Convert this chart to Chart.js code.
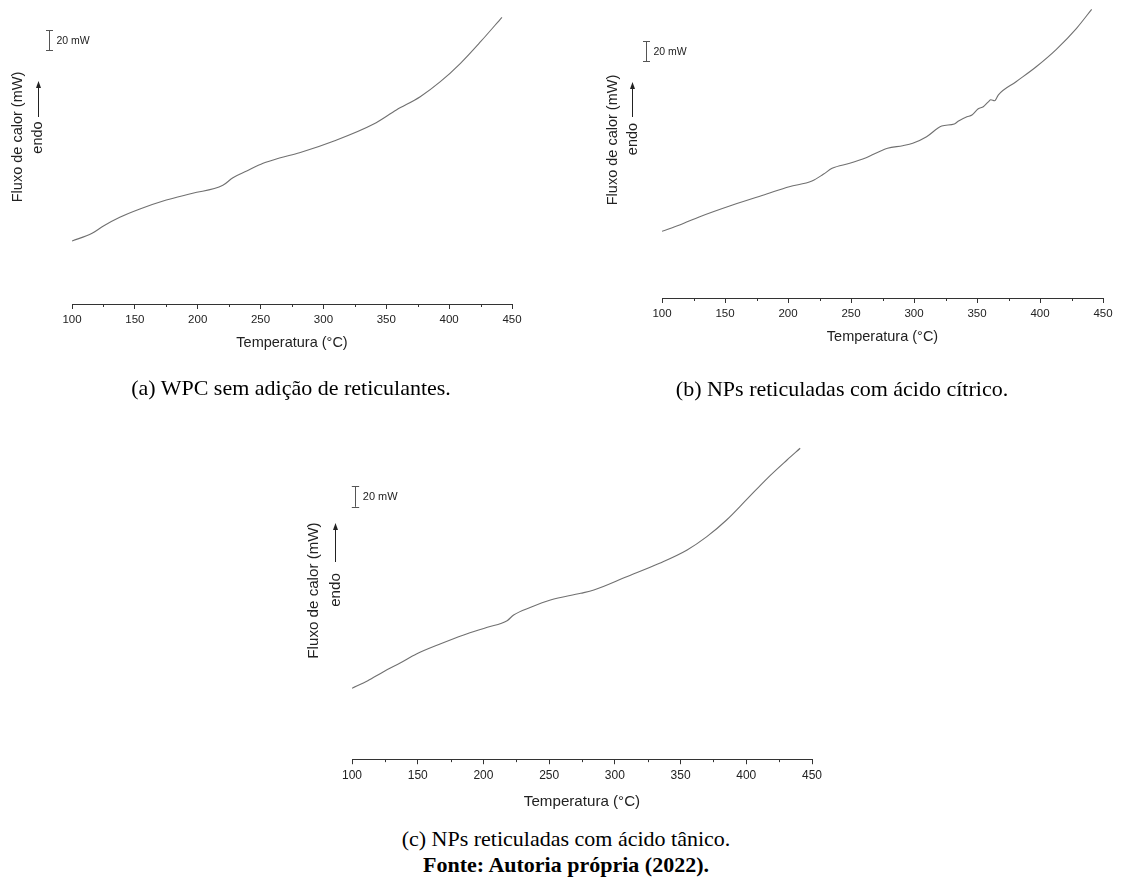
<!DOCTYPE html>
<html><head><meta charset="utf-8">
<script src="https://cdn.jsdelivr.net/npm/chart.js@4.4.0/dist/chart.umd.min.js"></script>
<style>
body{margin:0;background:#fff;width:1121px;height:885px;position:relative;overflow:hidden;}
.cv{position:absolute;}
.cap{position:absolute;font-family:"Liberation Serif","Times New Roman",serif;font-size:22px;color:#000;white-space:nowrap;transform:translate(-50%,-50%);}
</style></head><body>
<div class="cv" style="left:0;top:0;width:560px;height:360px"><canvas id="ca"></canvas></div>
<div class="cv" style="left:560px;top:0;width:561px;height:360px"><canvas id="cb"></canvas></div>
<div class="cv" style="left:280px;top:400px;width:560px;height:420px"><canvas id="cc"></canvas></div>
<div class="cap" style="left:291px;top:388px">(a) WPC sem adição de reticulantes.</div>
<div class="cap" style="left:842px;top:389px">(b) NPs reticuladas com ácido cítrico.</div>
<div class="cap" style="left:566px;top:839px">(c) NPs reticuladas com ácido tânico.</div>
<div class="cap" style="left:566px;top:865px;font-weight:bold">Fonte: Autoria própria (2022).</div>
<script>
// ---- data ----
const temperatureTicks = [100,150,200,250,300,350,400,450];
const minorTicks = [125,175,225,275,325,375,425];
const scaleBarMW = 20;

// (a) WPC sem adição de reticulantes (relative heat flow, mW)
const tempA = [100,116,125,138,154,175,196,220,228,239,252,265,281,309,340,358,377,393,409,425,442];
const fluxA = [0,7.7,15,23.7,32,41,47.7,55.7,63.3,70,77.7,83,88.3,100.3,117,131,144.3,159.3,177.7,199.3,223.7];

// (b) NPs reticuladas com ácido cítrico
const tempB = [100,114,130,156,183,201,219,228,235,249,262,279,291,299,310,322,332,335,342,346,351,355,359,361,364,367,381,397,413,429,441];
const fluxB = [0,6.3,14.6,26.3,37.3,44.6,50.3,57,63,68,73.6,83,85.6,88,94.6,105.3,107.3,110,114.5,116.3,122.5,124.5,129.5,131.5,130.5,136.5,149.6,164.6,182,203,222];

// (c) NPs reticuladas com ácido tânico
const tempC = [100,112,124,137,149,167,185,203,218,223,236,251,274,284,309,334,355,370,385,400,416,431,441];
const fluxC = [0,7.3,16,24.6,33,42.6,51.3,58.7,65,70.5,77.9,84.9,91.3,94.5,107.3,120.2,133,145.8,161.8,181.1,201.9,219.5,230.8];

const FONT = '"Liberation Sans", Arial, sans-serif';

const decorPlugin = {
  id: 'decor',
  afterDraw(chart, args, o) {
    const ctx = chart.ctx, xs = chart.scales.x, ys = chart.scales.y, ca = chart.chartArea;
    const k = o.k || 1;
    ctx.save();
    ctx.strokeStyle = '#333'; ctx.lineWidth = 1;
    minorTicks.forEach(v => {
      const px = Math.round(xs.getPixelForValue(v)) + 0.5;
      ctx.beginPath(); ctx.moveTo(px, ca.bottom); ctx.lineTo(px, ca.bottom + 3 * k); ctx.stroke();
    });
    const bx = Math.round(ca.left + o.barDx) + 0.5;
    const y1 = ys.getPixelForValue(o.barTop), y2 = ys.getPixelForValue(o.barTop - scaleBarMW);
    ctx.strokeStyle = '#555';
    ctx.beginPath();
    ctx.moveTo(bx, y1); ctx.lineTo(bx, y2);
    ctx.moveTo(bx - 3.5 * k, Math.round(y1) + 0.5); ctx.lineTo(bx + 3.5 * k, Math.round(y1) + 0.5);
    ctx.moveTo(bx - 3.5 * k, Math.round(y2) + 0.5); ctx.lineTo(bx + 3.5 * k, Math.round(y2) + 0.5);
    ctx.stroke();
    ctx.fillStyle = '#222';
    ctx.font = (10.5 * k) + 'px ' + FONT;
    ctx.textAlign = 'left'; ctx.textBaseline = 'middle';
    ctx.fillText(scaleBarMW + ' mW', bx + 7 * k, (y1 + y2) / 2 + 1);
    ctx.font = (14.5 * k) + 'px ' + FONT;
    ctx.textAlign = 'center';
    ctx.save(); ctx.translate(o.titleX, o.titleY); ctx.rotate(-Math.PI / 2);
    ctx.fillText('Fluxo de calor (mW)', 0, 0); ctx.restore();
    ctx.save(); ctx.translate(o.endoX, o.endoY); ctx.rotate(-Math.PI / 2);
    ctx.fillText('endo', 0, 0); ctx.restore();
    const ax = Math.round(o.arrowX) + 0.5;
    ctx.strokeStyle = '#222'; ctx.fillStyle = '#222';
    ctx.beginPath(); ctx.moveTo(ax, o.arrowY1); ctx.lineTo(ax, o.arrowY2 + 5); ctx.stroke();
    ctx.beginPath(); ctx.moveTo(ax, o.arrowY2); ctx.lineTo(ax - 2.5, o.arrowY2 + 7); ctx.lineTo(ax + 2.5, o.arrowY2 + 7); ctx.closePath(); ctx.fill();
    ctx.restore();
  }
};

function makeChart(id, temps, flux, c) {
  const k = c.decor.k || 1;
  new Chart(document.getElementById(id), {
    type: 'line',
    data: { datasets: [{ data: temps.map((t, i) => ({ x: t, y: flux[i] })), borderColor: '#707070', borderWidth: 1.1, pointRadius: 0, cubicInterpolationMode: 'monotone', fill: false }] },
    options: {
      responsive: true, maintainAspectRatio: false, animation: false,
      layout: { padding: c.pad },
      plugins: { legend: { display: false }, tooltip: { enabled: false }, decor: c.decor },
      scales: {
        x: {
          type: 'linear', min: 100, max: 450,
          afterBuildTicks: s => { s.ticks = temperatureTicks.map(v => ({ value: v })); },
          afterFit: s => { s.height = c.axisH; },
          grid: { display: true, drawOnChartArea: false, drawTicks: true, tickLength: 5 * k, color: '#333', lineWidth: 1 },
          border: { display: true, color: '#333', width: 1 },
          ticks: { color: '#222', padding: 4, maxRotation: 0, font: { family: FONT, size: 11.5 * k } },
          title: { display: true, text: 'Temperatura (°C)', color: '#222', padding: { top: 0, bottom: 2 }, font: { family: FONT, size: 14.5 * k } }
        },
        y: { display: false, min: c.yMin, max: c.yMax }
      }
    },
    plugins: [decorPlugin]
  });
}

makeChart('ca', tempA, fluxA, {
  pad: { left: 72, right: 48, top: 5, bottom: 6 }, axisH: 50, yMin: -63, yMax: 236,
  decor: { k: 1, barDx: -23, barTop: 211, titleX: 18, titleY: 137, endoX: 38, endoY: 137.5, arrowX: 37.5, arrowY1: 117, arrowY2: 81 }
});
makeChart('cb', tempB, fluxB, {
  pad: { left: 102, right: 18, top: 5, bottom: 12 }, axisH: 50, yMin: -66.7, yMax: 226.3,
  decor: { k: 1, barDx: -16.3, barTop: 190.3, titleX: 53, titleY: 140, endoX: 73, endoY: 139, arrowX: 72, arrowY1: 117, arrowY2: 82 }
});
makeChart('cc', tempC, fluxC, {
  pad: { left: 72, right: 28, top: 5, bottom: 7 }, axisH: 54, yMin: -68, yMax: 272.4,
  decor: { k: 1.045, barDx: 3.4, barTop: 194.5, titleX: 34, titleY: 190.5, endoX: 56, endoY: 190, arrowX: 55, arrowY1: 162, arrowY2: 123 }
});
</script>
</body></html>
